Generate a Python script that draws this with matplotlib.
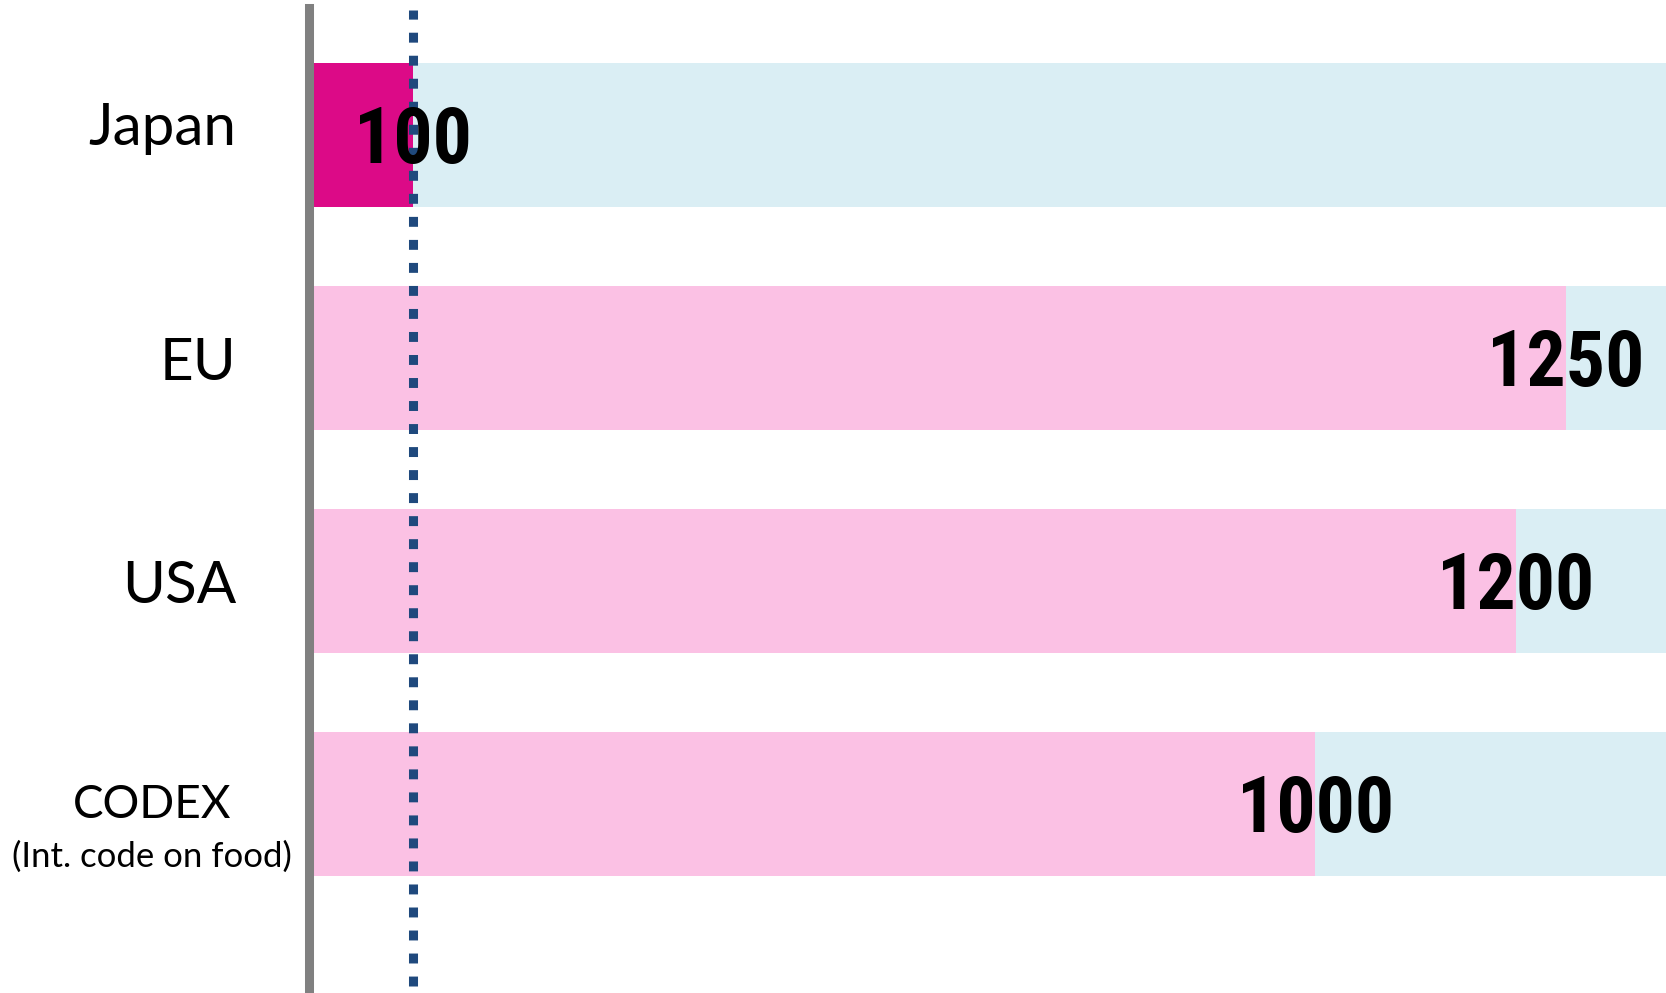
import matplotlib
matplotlib.use("Agg")
import matplotlib.pyplot as plt
import matplotlib.transforms as mtransforms

# ─────────────────────────────────────────────
# DATOS
# ─────────────────────────────────────────────
categories   = ["Japan", "EU", "USA", "CODEX"]
subtitles    = ["", "", "", "(Int. code on food)"]
limits       = [100, 1250, 1200, 1000]
value_labels = ["100", "1250", "1200", "1000"]
japan_limit  = 100
scale_max    = 1350

# ─────────────────────────────────────────────
# ESTILO
# ─────────────────────────────────────────────
MAGENTA = "#DC0A87"
PINK    = "#FBC1E4"
BLUE_BG = "#DAEEF4"
DOT_COL = "#1F497D"
AXIS    = "#808080"
LABEL_FONT = ["Lato", "DejaVu Sans"]
VALUE_FONT = ["Roboto Condensed", "Roboto", "DejaVu Sans"]

fig = plt.figure(figsize=(16.66, 9.93), dpi=100)
ax = fig.add_axes([313 / 1666, 0, 1353 / 1666, 985 / 993])

y = list(range(len(categories)))
bar_h = 0.65

# fondo claro hasta el borde derecho
ax.barh(y, [scale_max] * len(y), height=bar_h, color=BLUE_BG, zorder=1)
colors = [MAGENTA if c == "Japan" else PINK for c in categories]
ax.barh(y, limits, height=bar_h, color=colors, zorder=2)

# línea punteada del límite japonés
ax.axvline(japan_limit, ymin=0.007, ymax=0.998, color=DOT_COL, linewidth=6.5,
           linestyle=(0, (1.1, 1.45)), dash_capstyle="butt", zorder=3)

# etiquetas de valores
for yi, v, lab in zip(y, limits, value_labels):
    ax.text(v, yi + 0.126, lab, ha="center", va="baseline", fontsize=56,
            fontweight="bold", family=VALUE_FONT, color="black", zorder=4)

# etiquetas de categorías
trans = mtransforms.blended_transform_factory(ax.transAxes, ax.transData)
for yi, cat, sub in zip(y, categories, subtitles):
    if sub:
        ax.text(-0.119, yi + 0.063, cat, ha="center", va="baseline", fontsize=33,
                family=LABEL_FONT, transform=trans)
        ax.text(-0.119, yi + 0.283, sub, ha="center", va="baseline", fontsize=25,
                family=LABEL_FONT, transform=trans)
    else:
        off = 0.045 if cat == "Japan" else 0.1
        ax.text(-0.0569, yi + off, cat, ha="right", va="baseline", fontsize=42,
                family=LABEL_FONT, transform=trans)

ax.set_xlim(0, scale_max)
ax.set_ylim(3.8475, -0.5695)
for s in ["top", "right", "bottom"]:
    ax.spines[s].set_visible(False)
ax.spines["left"].set_color(AXIS)
ax.spines["left"].set_linewidth(6.5)
ax.spines["left"].set_position(("outward", 3.24))
ax.set_xticks([])
ax.set_yticks([])
ax.set_facecolor("none")

fig.savefig("out.png", dpi=100, facecolor="white")
